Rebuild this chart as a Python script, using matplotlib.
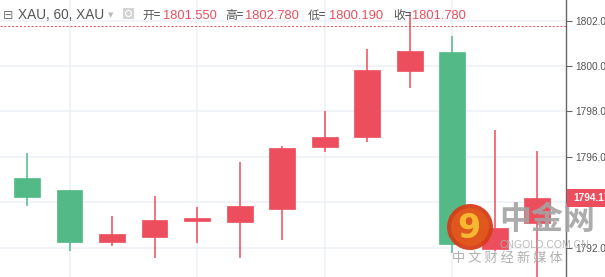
import matplotlib
matplotlib.use("Agg")
import matplotlib.pyplot as plt
from matplotlib.patches import Circle, Rectangle
from matplotlib.transforms import IdentityTransform

# ---- data ----
opens  = [1795.08, 1794.52, 1792.23, 1792.45, 1793.17, 1793.14, 1793.70, 1796.44, 1796.86, 1799.78, 1800.60, 1791.92, 1793.07]
highs  = [1796.15, 1794.52, 1793.39, 1794.26, 1793.79, 1795.76, 1796.49, 1798.02, 1800.75, 1802.38, 1801.32, 1797.18, 1796.25]
lows   = [1793.84, 1791.86, 1792.08, 1791.55, 1792.19, 1791.55, 1792.34, 1796.22, 1796.66, 1799.02, 1791.76, 1791.85, 1790.50]
closes = [1794.23, 1792.23, 1792.60, 1793.21, 1793.29, 1793.83, 1796.39, 1796.86, 1799.81, 1800.66, 1792.16, 1792.85, 1794.17]
yticks = [1792, 1794, 1796, 1798, 1800, 1802]
hdr_open, hdr_high, hdr_low, hdr_close = "1801.550", "1802.780", "1800.190", "1801.780"
last_price = 1794.17
ref_line = 1801.78

RED = "#ec4e5d"
GREEN = "#53b987"
GRID = "#edf1f6"
SANS = ["Liberation Sans", "DejaVu Sans"]
CJK = ["Noto Sans CJK SC", "DejaVu Sans"]

W, H = 605, 277
fig = plt.figure(figsize=(W / 100, H / 100), dpi=100)
fig.patch.set_facecolor("white")
ax = fig.add_axes([0, 0, 566 / W, 1])
ax.set_facecolor("white")

n = len(opens)
ax.set_xlim(-0.635, 12.68)
ax.set_ylim(1790.70, 1802.91)

for t in yticks:
    ax.axhline(t, color=GRID, lw=1.2, zorder=0)
for xv in [1, 4, 7, 10]:
    ax.axvline(xv, color=GRID, lw=1.2, zorder=0)

for i in range(n):
    o, h, l, c = opens[i], highs[i], lows[i], closes[i]
    col = RED if c >= o else GREEN
    ax.vlines(i, l, h, color=col, lw=1.1, zorder=2)
    ax.bar(i, abs(c - o), bottom=min(o, c), width=0.61, color=col,
           edgecolor=col, linewidth=0.5, zorder=3)

ax.axhline(ref_line, color=RED, lw=0.7, ls=(0, (2, 2)), zorder=4)

for s in ["left", "top", "bottom"]:
    ax.spines[s].set_visible(False)
ax.spines["right"].set_color("#666666")
ax.spines["right"].set_linewidth(1.0)
ax.set_xticks([])
ax.yaxis.tick_right()
ax.set_yticks(yticks)
ax.set_yticklabels([f"{t:.2f}" for t in yticks], family=SANS)
ax.tick_params(axis="y", colors="#666666", labelcolor="#555555",
               labelsize=7.3, length=4, width=0.8, pad=2.5)

def px(x, y):
    return x / W, 1 - y / H

# last price tag
ytag = ax.transData.transform((0, last_price))[1]
fig.patches.append(Rectangle((567, ytag - 9), 40, 18, transform=IdentityTransform(),
                             fc=RED, ec="none", zorder=8))
fig.text(573 / W, ytag / H, f"{last_price:.2f}", color="white", fontsize=7.3,
         family=SANS, fontweight="bold", ha="left", va="center", zorder=9)

# watermark
fig.patches.append(Circle((470, H - 227), 23, transform=IdentityTransform(),
                          fc="#d63d1a", ec="none", alpha=0.95, zorder=6))
fig.patches.append(Circle((470, H - 227), 19, transform=IdentityTransform(),
                          fc="#e25a1c", ec="none", alpha=0.9, zorder=6))
fig.text(*px(469, 229), "9", fontsize=24, fontweight="bold", color="#f6b830",
         ha="center", va="center", zorder=7)
fig.text(*px(499, 220), "中金网", family=CJK, fontsize=23, fontweight="bold", color="#a3a3a3",
         alpha=0.9, ha="left", va="center", zorder=7)
fig.text(*px(500, 245), "CNGOLD.COM.CN", fontsize=7.5, family=SANS, color="#b0b0b0", alpha=0.9,
         ha="left", va="center", zorder=7)
fig.text(*px(452, 258), "中 文 财 经 新 媒 体", family=CJK, fontsize=9.5, color="#b0b0b0",
         ha="left", va="center", zorder=7)

# header
base = 1 - 19 / H
GRAY = "#555555"
fig.text(3 / W, base, "⊟", fontsize=9, color="#777777", ha="left", va="baseline")
fig.text(18 / W, base, "XAU, 60, XAU", family=SANS, fontsize=9.8, color=GRAY, ha="left", va="baseline")
fig.text(108 / W, base + 0.005, "▼", fontsize=5, color="#bbbbbb", ha="left", va="baseline")
fig.patches.append(Rectangle((123, H - 19), 11, 11, transform=IdentityTransform(),
                             fc="#d4d4d4", ec="none"))
fig.patches.append(Circle((128.5, H - 13.5), 3, transform=IdentityTransform(),
                          fc="none", ec="white", lw=0.8))
items = [(142, "开=", 163, hdr_open), (225, "高=", 245, hdr_high),
         (308, "低=", 329, hdr_low), (393, "收=", 412, hdr_close)]
for lx, lab, vx, val in items:
    fig.text(lx / W, base, lab, family=CJK, fontsize=8.5, color=GRAY, ha="left", va="baseline")
    fig.text(vx / W, base, val, family=SANS, fontsize=9.3, color=RED, ha="left", va="baseline")

fig.savefig("out.png", dpi=100)
